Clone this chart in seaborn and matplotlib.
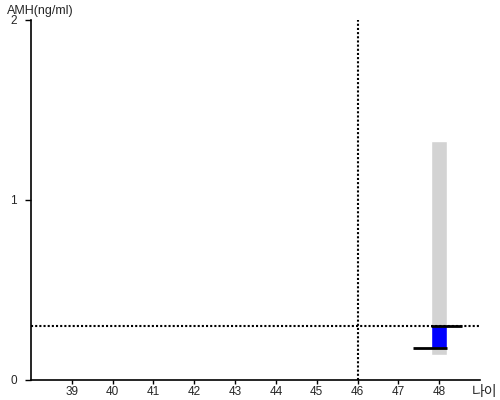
import matplotlib
matplotlib.use("Agg")
import matplotlib.pyplot as plt
import seaborn as sns
import pandas as pd

# data
ages = [39, 40, 41, 42, 43, 44, 45, 46, 47, 48]
range_age = [48]
range_low = [0.14]
range_high = [1.33]
band_low = [0.18]
band_high = [0.30]
ref_value = 0.30
current_age = 46

sns.set_style("white")
plt.rcParams['font.family'] = ['Liberation Sans', 'Noto Sans CJK KR', 'DejaVu Sans']

fig = plt.figure(figsize=(5, 4), dpi=100)
ax = fig.add_axes([0.062, 0.05, 0.898, 0.90])

df = pd.DataFrame({"age": range_age, "low": range_low, "high": range_high,
                   "blow": band_low, "bhigh": band_high})

# grey range bar
ax.bar(df["age"], df["high"] - df["low"], bottom=df["low"], width=0.4,
       color="#d3d3d3", zorder=1)
# blue band
ax.bar(df["age"], df["bhigh"] - df["blow"], bottom=df["blow"], width=0.4,
       color="#0000ff", zorder=2)
# black horizontal markers
for a, lo, hi in zip(df["age"], df["blow"], df["bhigh"]):
    ax.plot([a - 0.2, a + 0.55], [hi, hi], color="black", lw=2, zorder=3,
            solid_capstyle="butt")
    ax.plot([a - 0.63, a + 0.2], [lo, lo], color="black", lw=2, zorder=3,
            solid_capstyle="butt")

sns.lineplot(x=[38, 49], y=[ref_value, ref_value], ax=ax, color="black",
             lw=1.5, linestyle=(0, (1, 1)), zorder=4)
ax.plot([current_age, current_age], [0, 2], color="black", lw=1.5,
        linestyle=(0, (1, 1)), zorder=4)

ax.set_xlim(38, 49)
ax.set_ylim(0, 2)
ax.set_xticks(ages)
ax.set_xticklabels([str(a) for a in ages], fontsize=8.5)
ax.set_yticks([0, 1, 2])
ax.set_yticklabels(["0", "1", "2"], fontsize=8.5)
ax.tick_params(axis="x", direction="out", length=3, width=1, color="black",
               bottom=True, pad=1.5)
ax.tick_params(axis="y", direction="out", length=4, width=1, color="black",
               left=True, pad=6)
for s in ["top", "right"]:
    ax.spines[s].set_visible(False)
for s in ["left", "bottom"]:
    ax.spines[s].set_color("black")
    ax.spines[s].set_linewidth(1.2)

fig.text(0.014, 0.988, "AMH(ng/ml)", fontsize=9, ha="left", va="top")
fig.text(0.944, 0.02, "나이", fontsize=10, ha="left", va="center",
         family=['Noto Sans CJK KR', 'DejaVu Sans'])

fig.savefig("out.png", dpi=100)
